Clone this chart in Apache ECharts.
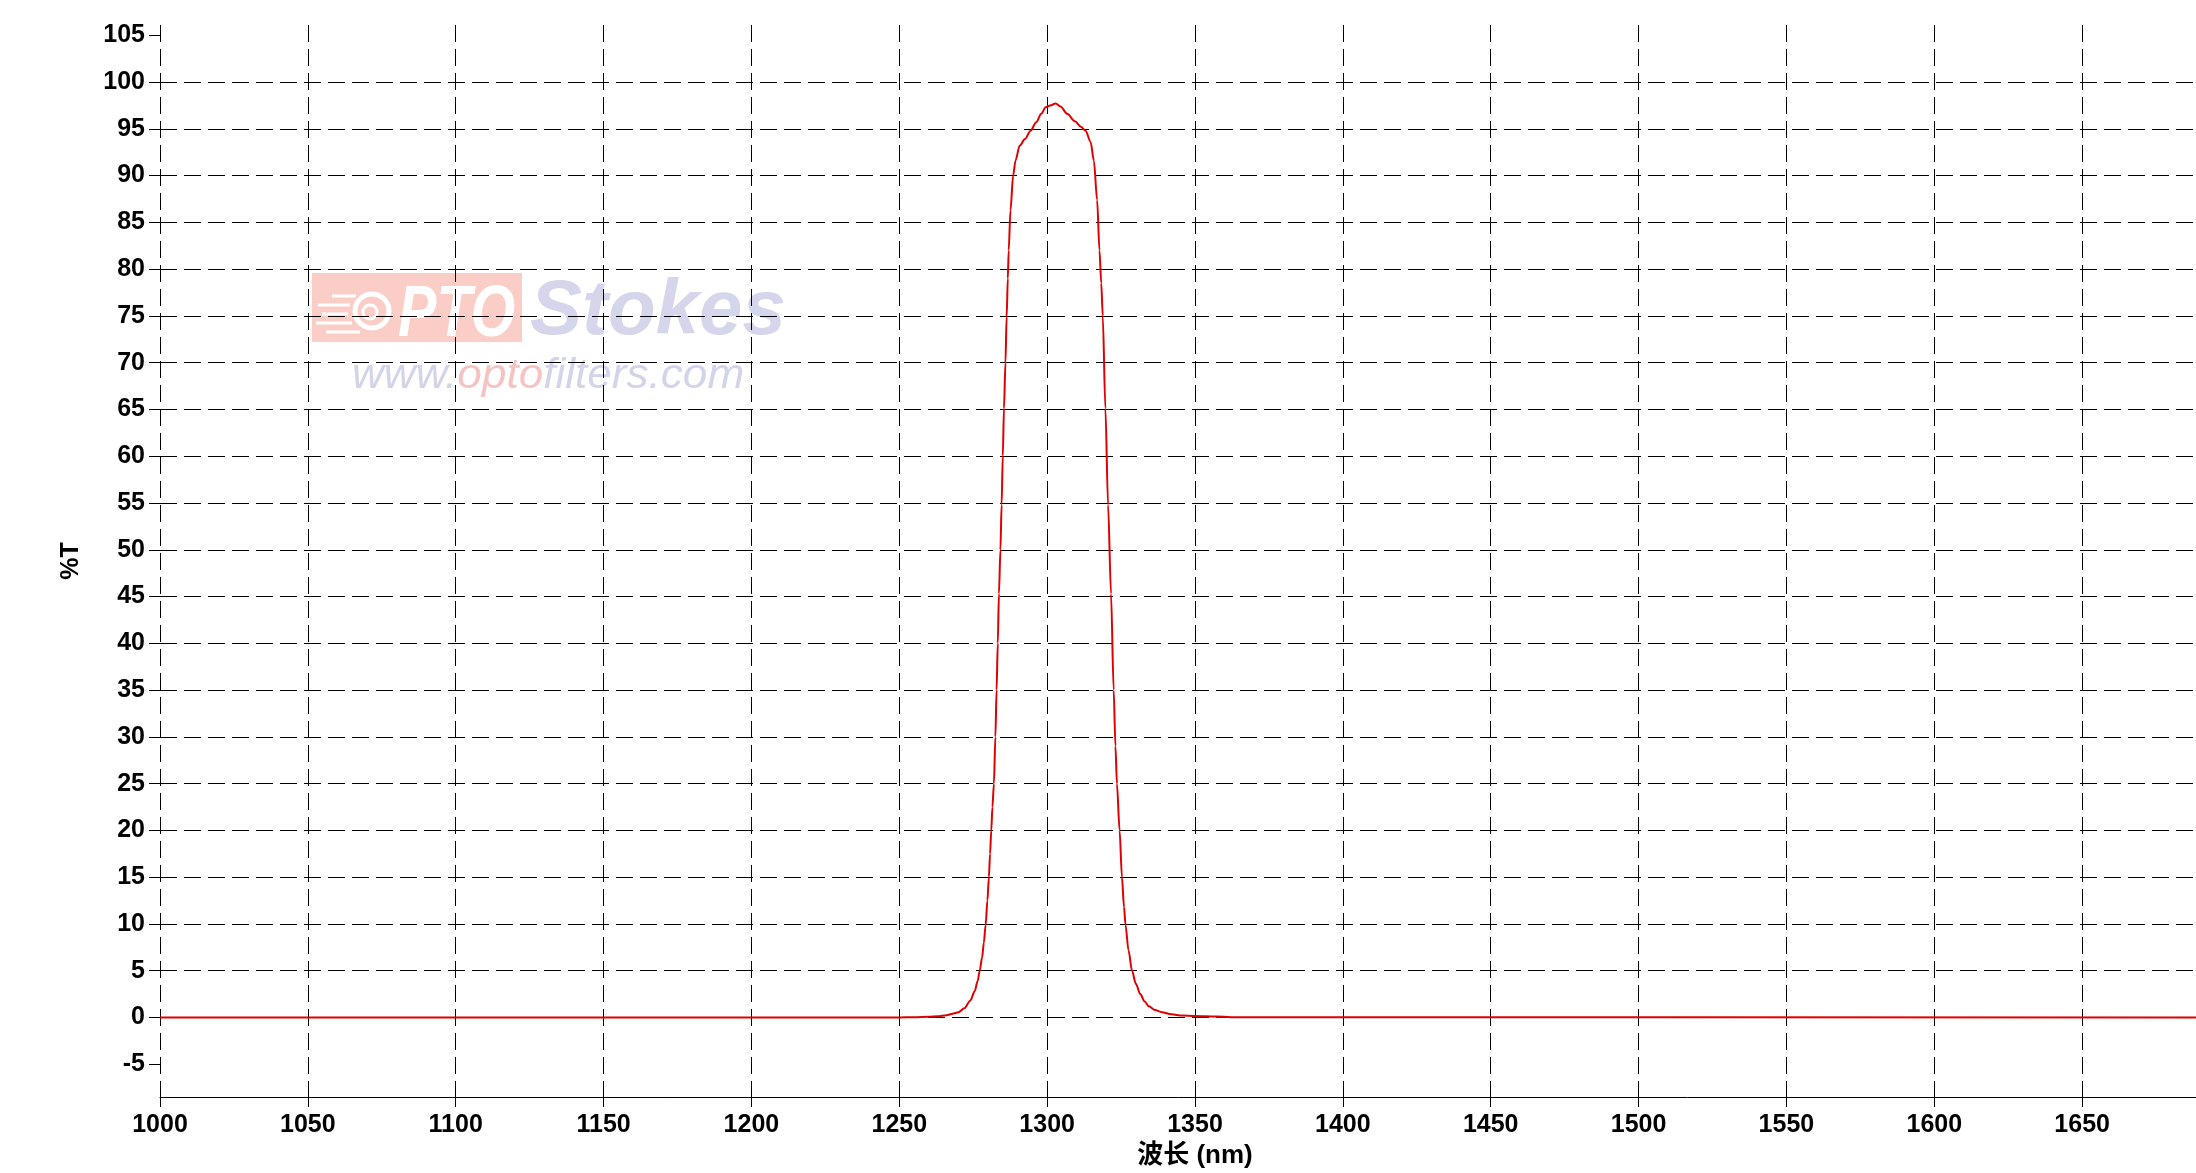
<!DOCTYPE html>
<html>
<head>
<meta charset="utf-8">
<script src="https://cdn.jsdelivr.net/npm/echarts@6/dist/echarts.min.js"></script>
<style>
html,body{margin:0;padding:0;background:#ffffff;}
#chart{width:2196px;height:1173px;}
</style>
</head>
<body>
<div id="chart"></div>
<script>
// ---- data ----
const wavelengths = [1000, 1250, 1255, 1260, 1263, 1266, 1268, 1270, 1272, 1274, 1275.5, 1276.5, 1277.2, 1278, 1278.6, 1279.2, 1279.8, 1280.3, 1280.7, 1281.1, 1281.5, 1282.0, 1282.5, 1282.9, 1283.3, 1283.7, 1284.2, 1284.6, 1285.0, 1285.4, 1285.9, 1286.3, 1286.7, 1287.0, 1287.6, 1288.5, 1289.3, 1290.7, 1292.5, 1294.4, 1296.3, 1298, 1299.5, 1301, 1302.9, 1304.5, 1306.8, 1309.4, 1311.5, 1313.0, 1314.7, 1315.8, 1316.9, 1317.7, 1318.3, 1318.8, 1319.7, 1320.6, 1321.6, 1322.5, 1323.1, 1323.6, 1324.5, 1325.3, 1326.0, 1326.5, 1327.5, 1328.7, 1330, 1331.5, 1333, 1334.4, 1336.5, 1338.8, 1342, 1345.6, 1350, 1357, 1365, 1700];
const transmission = [0, 0, 0.03, 0.08, 0.12, 0.25, 0.4, 0.55, 1.0, 1.8, 2.8, 3.9, 5.0, 6.4, 8.0, 9.9, 12.5, 15.0, 17.5, 20.0, 22.5, 25.0, 30.0, 35.0, 40.0, 45.3, 50.0, 54.8, 60.0, 65.1, 70.0, 74.9, 79.0, 82.0, 86.3, 90.0, 91.6, 93.2, 93.9, 94.8, 95.7, 96.6, 97.3, 97.5, 97.7, 97.4, 96.6, 95.8, 95.2, 94.8, 93.6, 91.6, 87.4, 82.0, 78.5, 75.0, 65.1, 54.8, 45.3, 35.0, 29.0, 25.0, 20.0, 15.0, 11.8, 9.9, 7.2, 5.0, 3.6, 2.5, 1.7, 1.2, 0.8, 0.57, 0.35, 0.2, 0.15, 0.1, 0.02, 0];
const yTickLabels = [-5, 0, 5, 10, 15, 20, 25, 30, 35, 40, 45, 50, 55, 60, 65, 70, 75, 80, 85, 90, 95, 100, 105];
const xTickLabels = [1000, 1050, 1100, 1150, 1200, 1250, 1300, 1350, 1400, 1450, 1500, 1550, 1600, 1650];
const xTitle = '波长 (nm)';
const yTitle = '%T';

const seriesData = wavelengths.map((w, i) => [w, transmission[i]]);
const FONT = '"Liberation Sans", Arial, "Noto Sans CJK SC", sans-serif';

const chart = echarts.init(document.getElementById('chart'), null, {renderer: 'canvas'});
chart.setOption({
  animation: false,
  backgroundColor: '#ffffff',
  grid: {left: 160, right: -34, top: 25, bottom: 76, containLabel: false, outerBoundsMode: 'none'},
  xAxis: {
    type: 'value',
    min: xTickLabels[0],
    max: 1700,
    interval: 50,
    name: xTitle,
    nameLocation: 'middle',
    nameGap: 45,
    nameTextStyle: {fontSize: 26, fontWeight: 'bold', color: '#000', fontFamily: FONT},
    axisLine: {show: true, onZero: false, lineStyle: {color: '#000', width: 1}},
    axisTick: {show: true, inside: false, length: 10, lineStyle: {color: '#000', width: 1}},
    axisLabel: {
      margin: 16, fontSize: 25, fontWeight: 'bold', color: '#000', fontFamily: FONT,
      showMaxLabel: false,
      formatter: v => (xTickLabels.indexOf(v) >= 0 ? String(v) : '')
    },
    splitLine: {show: true, showMaxLine: false, lineStyle: {color: '#000', width: 1, type: [17, 7]}}
  },
  yAxis: {
    type: 'value',
    min: -8.5,
    max: 106.1,
    minInterval: 5,
    maxInterval: 5,
    name: yTitle,
    nameLocation: 'middle',
    nameGap: 76,
    nameTextStyle: {fontSize: 25, fontWeight: 'bold', color: '#000', fontFamily: FONT},
    axisLine: {show: false},
    axisTick: {show: true, inside: false, length: 11, customValues: yTickLabels, lineStyle: {color: '#000', width: 1}},
    axisLabel: {
      margin: 15, fontSize: 25, fontWeight: 'bold', color: '#000', fontFamily: FONT,
      customValues: yTickLabels,
      formatter: v => (yTickLabels.indexOf(v) >= 0 ? String(v) : '')
    },
    splitLine: {show: true, showMinLine: false, showMaxLine: false, lineStyle: {color: '#000', width: 1, type: [17, 7]}}
  },
  graphic: [
    {type: 'rect', z: -10, shape: {x: 312, y: 273, width: 210, height: 69}, style: {fill: '#fbcdc7'}},
    {type: 'circle', z: -9, shape: {cx: 372, cy: 311, r: 17}, style: {fill: 'none', stroke: '#ffffff', lineWidth: 5}},
    {type: 'circle', z: -9, shape: {cx: 370, cy: 312, r: 7}, style: {fill: 'none', stroke: '#ffffff', lineWidth: 3}},
    {type: 'line', z: -9, shape: {x1: 332, y1: 296, x2: 356, y2: 296}, style: {stroke: '#ffffff', lineWidth: 3}},
    {type: 'line', z: -9, shape: {x1: 318, y1: 305, x2: 350, y2: 305}, style: {stroke: '#ffffff', lineWidth: 3}},
    {type: 'line', z: -9, shape: {x1: 322, y1: 314, x2: 348, y2: 314}, style: {stroke: '#ffffff', lineWidth: 3}},
    {type: 'line', z: -9, shape: {x1: 316, y1: 323, x2: 352, y2: 323}, style: {stroke: '#ffffff', lineWidth: 3}},
    {type: 'line', z: -9, shape: {x1: 326, y1: 332, x2: 360, y2: 332}, style: {stroke: '#ffffff', lineWidth: 3}},
    {type: 'text', z: -9, x: 398, y: 316, scaleX: 0.8, style: {text: 'PTO', x: 0, y: 0, font: 'italic bold 72px "Liberation Sans", Arial, sans-serif', fill: '#ffffff', align: 'left', verticalAlign: 'middle', textAlign: 'left', textVerticalAlign: 'middle'}},
    {type: 'text', z: -9, style: {text: 'Stokes', x: 530, y: 312, font: 'italic bold 78px "Liberation Sans", Arial, sans-serif', fill: '#d5d5ec', align: 'left', verticalAlign: 'middle', textAlign: 'left', textVerticalAlign: 'middle'}},
    {type: 'text', z: -9, x: 352, y: 376, scaleX: 1.05, style: {
      text: '{a|www.}{b|opto}{a|filters.com}', x: 0, y: 0,
      align: 'left', verticalAlign: 'middle', textAlign: 'left', textVerticalAlign: 'middle',
      rich: {
        a: {fontSize: 42, fontStyle: 'italic', fontFamily: '"Liberation Sans", Arial, sans-serif', fill: '#d3d3ea', color: '#d3d3ea'},
        b: {fontSize: 42, fontStyle: 'italic', fontFamily: '"Liberation Sans", Arial, sans-serif', fill: '#f6c3c3', color: '#f6c3c3'}
      }
    }}
  ],
  series: [{
    type: 'line',
    data: seriesData,
    showSymbol: false,
    symbol: 'none',
    smooth: 0.3,
    smoothMonotone: 'x',
    clip: true,
    z: 5,
    lineStyle: {color: '#e00000', width: 2}
  }]
});
</script>
</body>
</html>
